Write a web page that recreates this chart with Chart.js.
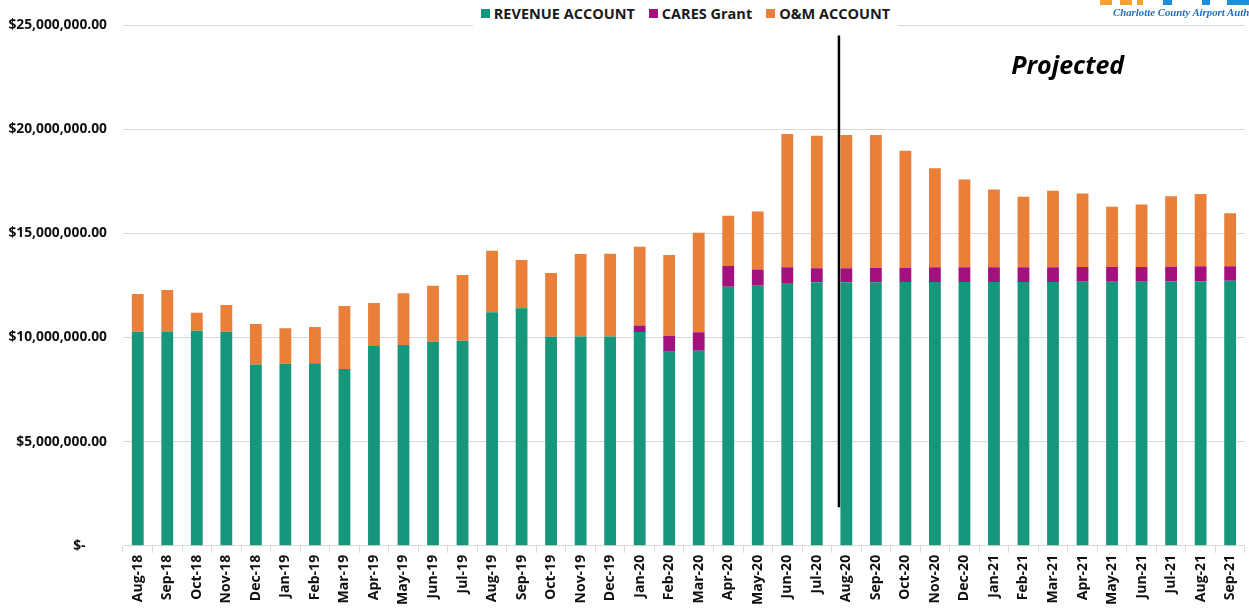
<!DOCTYPE html>
<html lang="en">
<head>
    <meta charset="UTF-8">
    <title>Revenue / CARES / O&amp;M Accounts</title>
    <script src="https://cdn.jsdelivr.net/npm/chart.js@4/dist/chart.umd.min.js"></script>
    <style>
        body { margin: 0; background: #fff; font-family: 'Open Sans', sans-serif; }
        .wrap { position: relative; width: 1249px; height: 609px; overflow: hidden; }
        .legend {
            position: absolute; left: 473px; top: -2px; width: 425px; height: 30px;
            background: #fff; display: flex; justify-content: center; align-items: center;
            font-weight: 700; font-size: 14.5px; color: #1a1a1a; z-index: 2;
        }
        .legend span { display: flex; align-items: center; margin: 0 7px; }
        .legend i { display: inline-block; width: 9px; height: 9px; margin-right: 4px; }
        .logo { position: absolute; left: 1100px; top: 0; width: 149px; height: 24px; z-index: 2; }
        .logo b { position: absolute; top: 0; height: 5px; }
        .logo div {
            position: absolute; left: 13px; top: 6px; white-space: nowrap;
            font-family: 'Liberation Serif', serif; font-style: italic; font-weight: 700;
            font-size: 10.8px; color: #1d6fc4;
        }
    </style>
</head>
<body>
<div class="wrap">
    <canvas id="chart" width="1249" height="609"></canvas>
    <div class="legend" id="legend"></div>
    <div class="logo">
        <b style="left:0;width:12px;background:#f5a030"></b>
        <b style="left:20px;width:12px;background:#f5a030"></b>
        <b style="left:37px;width:6px;background:#f5a030"></b>
        <b style="left:63px;width:9px;background:#1d8fd8"></b>
        <b style="left:102px;width:8px;background:#1d8fd8"></b>
        <b style="left:127px;width:22px;background:#1d8fd8"></b>
        <div>Charlotte County Airport Authority</div>
    </div>
</div>
<script>
    const months = ['Aug-18', 'Sep-18', 'Oct-18', 'Nov-18', 'Dec-18', 'Jan-19', 'Feb-19', 'Mar-19',
        'Apr-19', 'May-19', 'Jun-19', 'Jul-19', 'Aug-19', 'Sep-19', 'Oct-19', 'Nov-19', 'Dec-19',
        'Jan-20', 'Feb-20', 'Mar-20', 'Apr-20', 'May-20', 'Jun-20', 'Jul-20', 'Aug-20', 'Sep-20',
        'Oct-20', 'Nov-20', 'Dec-20', 'Jan-21', 'Feb-21', 'Mar-21', 'Apr-21', 'May-21', 'Jun-21',
        'Jul-21', 'Aug-21', 'Sep-21'];

    const revenueAccount = [10280000, 10290000, 10330000, 10280000, 8710000, 8740000, 8770000, 8490000,
        9590000, 9640000, 9800000, 9850000, 11210000, 11400000, 10040000, 10050000, 10050000,
        10260000, 9320000, 9370000, 12440000, 12480000, 12620000, 12650000, 12650000, 12650000,
        12660000, 12660000, 12660000, 12670000, 12670000, 12670000, 12680000, 12680000, 12680000,
        12700000, 12700000, 12720000];

    const caresGrant = [0, 0, 0, 0, 0, 0, 0, 0,
        0, 0, 0, 0, 0, 0, 0, 0, 0,
        320000, 770000, 880000, 990000, 790000, 750000, 670000, 670000, 690000,
        680000, 710000, 710000, 700000, 700000, 700000, 700000, 700000, 700000,
        700000, 720000, 700000];

    const omAccount = [1810000, 1990000, 860000, 1280000, 1940000, 1700000, 1730000, 3020000,
        2070000, 2480000, 2690000, 3150000, 2960000, 2320000, 3060000, 3960000, 3970000,
        3780000, 3870000, 4780000, 2420000, 2780000, 6400000, 6370000, 6400000, 6380000,
        5630000, 4750000, 4210000, 3730000, 3390000, 3680000, 3530000, 2900000, 3010000,
        3380000, 3470000, 2540000];

    const yTicks = [0, 5000000, 10000000, 15000000, 20000000, 25000000];
    const projectedFrom = 'Aug-20';

    const seriesNames = ['REVENUE ACCOUNT', 'CARES Grant', 'O&M ACCOUNT'];
    const seriesColors = ['#16967b', '#a5107f', '#e97f39'];
    const seriesData = [revenueAccount, caresGrant, omAccount];

    // html legend sits over the top gridline like in the original
    const legendEl = document.getElementById('legend');
    seriesNames.forEach((name, i) => {
        const s = document.createElement('span');
        s.innerHTML = `<i style="background:${seriesColors[i]}"></i>`;
        s.appendChild(document.createTextNode(name));
        legendEl.appendChild(s);
    });

    const projectedPlugin = {
        id: 'projected',
        afterDatasetsDraw(chart) {
            const { ctx, scales: { x, y } } = chart;
            const bar = chart.getDatasetMeta(0).data[months.indexOf(projectedFrom)];
            const lx = bar.x - bar.width / 2 - 1.5;
            ctx.save();
            ctx.strokeStyle = '#000';
            ctx.lineWidth = 2.5;
            ctx.beginPath();
            ctx.moveTo(lx, y.getPixelForValue(24500000));
            ctx.lineTo(lx, y.getPixelForValue(1850000));
            ctx.stroke();
            ctx.fillStyle = '#000';
            ctx.font = 'italic 700 25px "Open Sans"';
            ctx.textAlign = 'center';
            ctx.textBaseline = 'middle';
            ctx.fillText('Projected', x.getPixelForValue(31.5), y.getPixelForValue(23000000));
            ctx.restore();
        }
    };

    new Chart(document.getElementById('chart'), {
        type: 'bar',
        data: {
            labels: months,
            datasets: seriesData.map((d, i) => ({
                label: seriesNames[i],
                data: d,
                backgroundColor: seriesColors[i],
                borderWidth: 0,
                categoryPercentage: 1,
                barPercentage: 0.4
            }))
        },
        options: {
            responsive: false,
            animation: false,
            layout: { padding: { top: 25, right: 4, left: 0, bottom: 2 } },
            plugins: { legend: { display: false }, tooltip: { enabled: false } },
            scales: {
                x: {
                    stacked: true,
                    grid: { drawOnChartArea: false, color: '#d9d9d9', tickLength: 7 },
                    border: { color: '#d9d9d9' },
                    ticks: {
                        minRotation: 90, maxRotation: 90, autoSkip: false, padding: 2,
                        color: '#111', font: { family: 'Open Sans', weight: 700, size: 14 }
                    }
                },
                y: {
                    stacked: true,
                    min: 0, max: 25000000,
                    afterBuildTicks: axis => { axis.ticks = yTicks.map(v => ({ value: v })); },
                    afterFit: axis => { axis.width = 123; },
                    grid: { color: '#d9d9d9', drawTicks: false },
                    border: { display: false },
                    ticks: {
                        padding: 16,
                        color: '#111',
                        font: { family: 'Open Sans', weight: 700, size: 13.8 },
                        callback: v => v === 0 ? '$-      ' :
                            '$' + v.toLocaleString('en-US', { minimumFractionDigits: 2 })
                    }
                }
            }
        },
        plugins: [projectedPlugin]
    });
</script>
</body>
</html>
